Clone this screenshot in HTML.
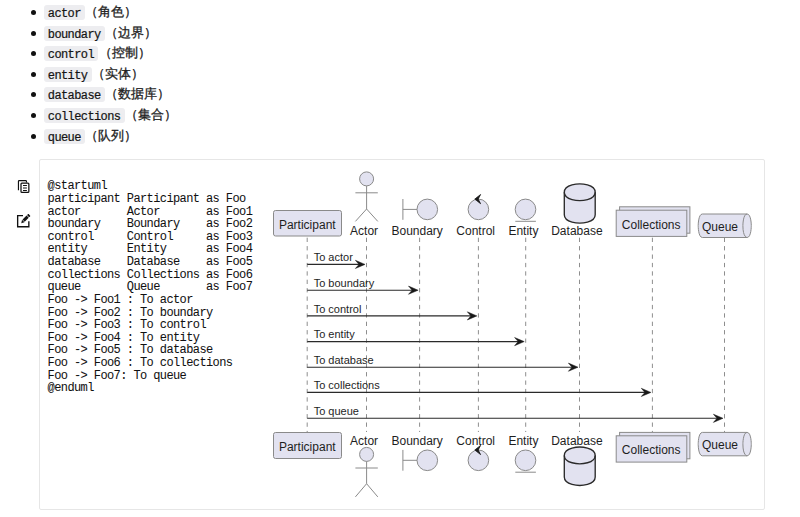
<!DOCTYPE html>
<html><head><meta charset="utf-8">
<style>
html,body{margin:0;padding:0;background:#fff;width:800px;height:517px;overflow:hidden;position:relative;font-family:"Liberation Sans",sans-serif;}
.li{position:absolute;left:0;height:14px;width:300px;white-space:nowrap;}
.dot{position:absolute;left:31.3px;top:4.5px;width:5px;height:5px;border-radius:50%;background:#111;}
.code{position:absolute;left:44.4px;top:-0.5px;height:15.2px;background:#ededf0;border-radius:3px;font-family:"Liberation Mono",monospace;font-size:12px;letter-spacing:-0.6px;line-height:18.6px;color:#151515;-webkit-text-stroke:0.22px #151515;padding:0 4.3px 0 3.4px;}
.zh{position:absolute;top:-1.4px;font-size:13px;line-height:15px;color:#1e1e1e;-webkit-text-stroke:0.3px #1e1e1e;}
.box{position:absolute;left:39px;top:159px;width:724px;height:349px;border:1px solid #e6e6e6;border-radius:2px;}
pre{position:absolute;left:47.6px;top:180.3px;margin:0;font-family:"Liberation Mono",monospace;font-size:12px;letter-spacing:-0.6px;line-height:12.63px;color:#111;-webkit-text-stroke:0.05px #111;}
svg{position:absolute;left:0;top:0;}
</style></head><body>
<div class="li" style="top:5.40px"><i class="dot"></i><span class="code">actor</span><span class="zh" style="left:85.3px">（角色）</span></div>
<div class="li" style="top:26.00px"><i class="dot"></i><span class="code">boundary</span><span class="zh" style="left:105.1px">（边界）</span></div>
<div class="li" style="top:46.60px"><i class="dot"></i><span class="code">control</span><span class="zh" style="left:98.5px">（控制）</span></div>
<div class="li" style="top:67.20px"><i class="dot"></i><span class="code">entity</span><span class="zh" style="left:91.9px">（实体）</span></div>
<div class="li" style="top:87.80px"><i class="dot"></i><span class="code">database</span><span class="zh" style="left:105.1px">（数据库）</span></div>
<div class="li" style="top:108.40px"><i class="dot"></i><span class="code">collections</span><span class="zh" style="left:124.9px">（集合）</span></div>
<div class="li" style="top:129.00px"><i class="dot"></i><span class="code">queue</span><span class="zh" style="left:85.3px">（队列）</span></div>

<div class="box"></div>
<pre>@startuml
participant Participant as Foo
actor       Actor       as Foo1
boundary    Boundary    as Foo2
control     Control     as Foo3
entity      Entity      as Foo4
database    Database    as Foo5
collections Collections as Foo6
queue       Queue       as Foo7
Foo -> Foo1 : To actor
Foo -> Foo2 : To boundary
Foo -> Foo3 : To control
Foo -> Foo4 : To entity
Foo -> Foo5 : To database
Foo -> Foo6 : To collections
Foo -> Foo7: To queue
@enduml</pre>

<svg width="800" height="517" viewBox="0 0 800 517">
<!-- copy icon -->
<path d="M18.45,190.3 V181.3 Q18.45,180.55 19.2,180.55 H25.7 Q26.45,180.55 26.45,181.3 V182.6" fill="none" stroke="#111" stroke-width="1.15"/>
<rect x="21" y="183" width="7.85" height="9.35" rx="0.9" fill="#fff" stroke="#111" stroke-width="1.25"/>
<path d="M23,185.5H26.9M23,188H26.9M23,190.5H26.9" stroke="#111" stroke-width="1.05"/>
<!-- edit icon -->
<path d="M23,215.6 H17.65 V226.75 H28.85 V221.3" fill="none" stroke="#111" stroke-width="1.35"/>
<g transform="translate(21.5,222.8) rotate(-45)" fill="#111">
<polygon points="-0.4,0.1 2.5,-1.75 2.5,1.75"/>
<rect x="3.0" y="-1.5" width="5.7" height="3"/>
<rect x="9.4" y="-1.5" width="1.8" height="3" rx="0.4"/>
</g>
<!--DIAGRAM-->
<g font-family="Liberation Sans, sans-serif">
<line x1="307.2" y1="237.7" x2="307.2" y2="432" stroke="#888" stroke-width="0.95" stroke-dasharray="4.3,4.1"/>
<line x1="366.5" y1="237.7" x2="366.5" y2="432" stroke="#888" stroke-width="0.95" stroke-dasharray="4.3,4.1"/>
<line x1="419.6" y1="237.7" x2="419.6" y2="432" stroke="#888" stroke-width="0.95" stroke-dasharray="4.3,4.1"/>
<line x1="478.4" y1="237.7" x2="478.4" y2="432" stroke="#888" stroke-width="0.95" stroke-dasharray="4.3,4.1"/>
<line x1="525.7" y1="237.7" x2="525.7" y2="432" stroke="#888" stroke-width="0.95" stroke-dasharray="4.3,4.1"/>
<line x1="579.5" y1="237.7" x2="579.5" y2="432" stroke="#888" stroke-width="0.95" stroke-dasharray="4.3,4.1"/>
<line x1="652.4" y1="237.7" x2="652.4" y2="432" stroke="#888" stroke-width="0.95" stroke-dasharray="4.3,4.1"/>
<line x1="724.5" y1="237.7" x2="724.5" y2="432" stroke="#888" stroke-width="0.95" stroke-dasharray="4.3,4.1"/>
<rect x="273.5" y="210.5" width="68" height="25.5" rx="2" fill="#E2E2F0" stroke="#8a8a8a" stroke-width="1.0"/>
<text x="307.3" y="228.8" font-size="12" text-anchor="middle" fill="#1e1e1e">Participant</text>
<circle cx="366.6" cy="178.9" r="7" fill="#E2E2F0" stroke="#8a8a8a" stroke-width="1.0"/>
<path d="M366.6,185.9V209M355.40000000000003,192.8H377.8M366.6,209L355.40000000000003,221.4M366.6,209L377.8,221.4" fill="none" stroke="#8a8a8a" stroke-width="1.0"/>
<text x="364.1" y="235.2" font-size="12" text-anchor="middle" fill="#1e1e1e">Actor</text>
<path d="M402.9,199.0V219.8M402.9,209.4H417.1" fill="none" stroke="#8a8a8a" stroke-width="1.0"/>
<circle cx="427.3" cy="209.4" r="10.3" fill="#E2E2F0" stroke="#8a8a8a" stroke-width="1.0"/>
<text x="417.2" y="235.4" font-size="12" text-anchor="middle" fill="#1e1e1e">Boundary</text>
<circle cx="478.4" cy="209.4" r="10.3" fill="#E2E2F0" stroke="#8a8a8a" stroke-width="1.0"/>
<polygon points="474.8,199.1 480.6,194.5 478.2,199.1 480.6,203.7" fill="#181818" stroke="#181818" stroke-width="0.8" stroke-linejoin="round"/>
<text x="475.7" y="235.4" font-size="12" text-anchor="middle" fill="#1e1e1e">Control</text>
<circle cx="525.5" cy="209.4" r="10.3" fill="#E2E2F0" stroke="#8a8a8a" stroke-width="1.0"/>
<line x1="515.3" y1="221.3" x2="535.9" y2="221.3" stroke="#8a8a8a" stroke-width="1.0"/>
<text x="523.4" y="235.4" font-size="12" text-anchor="middle" fill="#1e1e1e">Entity</text>
<path d="M564.3,192.20000000000002 C564.3,183.8 579.75,183.8 579.75,183.8 C579.75,183.8 595.2,183.8 595.2,192.20000000000002 L595.2,214.7 C595.2,223.1 579.75,223.1 579.75,223.1 C579.75,223.1 564.3,223.1 564.3,214.7 Z" fill="#E2E2F0" stroke="#2a2a2a" stroke-width="1.35"/>
<path d="M564.3,192.20000000000002 C564.3,200.60000000000002 579.75,200.60000000000002 579.75,200.60000000000002 C579.75,200.60000000000002 595.2,200.60000000000002 595.2,192.20000000000002" fill="none" stroke="#2a2a2a" stroke-width="1.35"/>
<text x="576.9" y="235.3" font-size="12" text-anchor="middle" fill="#1e1e1e">Database</text>
<rect x="619.6" y="206.8" width="70.3" height="26.399999999999977" fill="#E2E2F0" stroke="#8a8a8a" stroke-width="1.0"/>
<rect x="616.2" y="210.2" width="70.6" height="26.200000000000017" fill="#E2E2F0" stroke="#8a8a8a" stroke-width="1.0"/>
<text x="651.2" y="228.5" font-size="12" text-anchor="middle" fill="#1e1e1e">Collections</text>
<path d="M702.4000000000001,214 L747.0999999999999,214 C751.3,214 751.3,225.75 751.3,225.75 C751.3,225.75 751.3,237.5 747.0999999999999,237.5 L702.4000000000001,237.5 C698.2,237.5 698.2,225.75 698.2,225.75 C698.2,225.75 698.2,214 702.4000000000001,214 Z" fill="#E2E2F0" stroke="#8a8a8a" stroke-width="1.0"/>
<path d="M747.0999999999999,214 C742.9,214 742.9,225.75 742.9,225.75 C742.9,237.5 747.0999999999999,237.5 747.0999999999999,237.5" fill="none" stroke="#8a8a8a" stroke-width="1.0"/>
<text x="720" y="230.5" font-size="12" text-anchor="middle" fill="#1e1e1e">Queue</text>
<rect x="273.5" y="432.5" width="68" height="26.0" rx="2" fill="#E2E2F0" stroke="#8a8a8a" stroke-width="1.0"/>
<text x="307.3" y="450.6" font-size="12" text-anchor="middle" fill="#1e1e1e">Participant</text>
<circle cx="366.6" cy="454.4" r="7" fill="#E2E2F0" stroke="#8a8a8a" stroke-width="1.0"/>
<path d="M366.6,461.4V483.7M355.40000000000003,468H377.8M366.6,483.7L355.40000000000003,496.9M366.6,483.7L377.8,496.9" fill="none" stroke="#8a8a8a" stroke-width="1.0"/>
<text x="364.1" y="444.8" font-size="12" text-anchor="middle" fill="#1e1e1e">Actor</text>
<path d="M402.9,449.90000000000003V470.7M402.9,460.3H417.1" fill="none" stroke="#8a8a8a" stroke-width="1.0"/>
<circle cx="427.3" cy="460.3" r="10.3" fill="#E2E2F0" stroke="#8a8a8a" stroke-width="1.0"/>
<text x="417.2" y="445.1" font-size="12" text-anchor="middle" fill="#1e1e1e">Boundary</text>
<circle cx="478.4" cy="460.3" r="10.3" fill="#E2E2F0" stroke="#8a8a8a" stroke-width="1.0"/>
<polygon points="474.8,450.0 480.6,445.4 478.2,450.0 480.6,454.6" fill="#181818" stroke="#181818" stroke-width="0.8" stroke-linejoin="round"/>
<text x="475.7" y="445.1" font-size="12" text-anchor="middle" fill="#1e1e1e">Control</text>
<circle cx="525.5" cy="460.3" r="10.3" fill="#E2E2F0" stroke="#8a8a8a" stroke-width="1.0"/>
<line x1="515.3" y1="472.2" x2="535.9" y2="472.2" stroke="#8a8a8a" stroke-width="1.0"/>
<text x="523.4" y="445.1" font-size="12" text-anchor="middle" fill="#1e1e1e">Entity</text>
<path d="M564.3,455.4 C564.3,447 579.75,447 579.75,447 C579.75,447 595.2,447 595.2,455.4 L595.2,477.1 C595.2,485.5 579.75,485.5 579.75,485.5 C579.75,485.5 564.3,485.5 564.3,477.1 Z" fill="#E2E2F0" stroke="#2a2a2a" stroke-width="1.35"/>
<path d="M564.3,455.4 C564.3,463.8 579.75,463.8 579.75,463.8 C579.75,463.8 595.2,463.8 595.2,455.4" fill="none" stroke="#2a2a2a" stroke-width="1.35"/>
<text x="576.9" y="445.2" font-size="12" text-anchor="middle" fill="#1e1e1e">Database</text>
<rect x="619.6" y="432.4" width="70.3" height="26.400000000000034" fill="#E2E2F0" stroke="#8a8a8a" stroke-width="1.0"/>
<rect x="616.2" y="435.8" width="70.6" height="26.30000000000001" fill="#E2E2F0" stroke="#8a8a8a" stroke-width="1.0"/>
<text x="651.2" y="454" font-size="12" text-anchor="middle" fill="#1e1e1e">Collections</text>
<path d="M702.4000000000001,432.4 L747.0999999999999,432.4 C751.3,432.4 751.3,444.1 751.3,444.1 C751.3,444.1 751.3,455.8 747.0999999999999,455.8 L702.4000000000001,455.8 C698.2,455.8 698.2,444.1 698.2,444.1 C698.2,444.1 698.2,432.4 702.4000000000001,432.4 Z" fill="#E2E2F0" stroke="#8a8a8a" stroke-width="1.0"/>
<path d="M747.0999999999999,432.4 C742.9,432.4 742.9,444.1 742.9,444.1 C742.9,455.8 747.0999999999999,455.8 747.0999999999999,455.8" fill="none" stroke="#8a8a8a" stroke-width="1.0"/>
<text x="720" y="449.2" font-size="12" text-anchor="middle" fill="#1e1e1e">Queue</text>
<line x1="307.2" y1="264.4" x2="362.0" y2="264.4" stroke="#2a2a2a" stroke-width="1.1"/>
<polygon points="355.4,260.29999999999995 365.0,264.4 355.4,268.5 359.0,264.4" fill="#181818" stroke="#181818" stroke-width="0.5"/>
<text x="313.7" y="261.0" font-size="11" text-anchor="start" fill="#1e1e1e">To actor</text>
<line x1="307.2" y1="290.2" x2="415.1" y2="290.2" stroke="#2a2a2a" stroke-width="1.1"/>
<polygon points="408.5,286.09999999999997 418.1,290.2 408.5,294.3 412.1,290.2" fill="#181818" stroke="#181818" stroke-width="0.5"/>
<text x="313.7" y="286.8" font-size="11" text-anchor="start" fill="#1e1e1e">To boundary</text>
<line x1="307.2" y1="315.9" x2="473.9" y2="315.9" stroke="#2a2a2a" stroke-width="1.1"/>
<polygon points="467.29999999999995,311.79999999999995 476.9,315.9 467.29999999999995,320.0 470.9,315.9" fill="#181818" stroke="#181818" stroke-width="0.5"/>
<text x="313.7" y="312.5" font-size="11" text-anchor="start" fill="#1e1e1e">To control</text>
<line x1="307.2" y1="341.6" x2="521.2" y2="341.6" stroke="#2a2a2a" stroke-width="1.1"/>
<polygon points="514.6,337.5 524.2,341.6 514.6,345.70000000000005 518.2,341.6" fill="#181818" stroke="#181818" stroke-width="0.5"/>
<text x="313.7" y="338.20000000000005" font-size="11" text-anchor="start" fill="#1e1e1e">To entity</text>
<line x1="307.2" y1="367.2" x2="575.0" y2="367.2" stroke="#2a2a2a" stroke-width="1.1"/>
<polygon points="568.4,363.09999999999997 578.0,367.2 568.4,371.3 572.0,367.2" fill="#181818" stroke="#181818" stroke-width="0.5"/>
<text x="313.7" y="363.8" font-size="11" text-anchor="start" fill="#1e1e1e">To database</text>
<line x1="307.2" y1="392.4" x2="647.9" y2="392.4" stroke="#2a2a2a" stroke-width="1.1"/>
<polygon points="641.3,388.29999999999995 650.9,392.4 641.3,396.5 644.9,392.4" fill="#181818" stroke="#181818" stroke-width="0.5"/>
<text x="313.7" y="389.0" font-size="11" text-anchor="start" fill="#1e1e1e">To collections</text>
<line x1="307.2" y1="418.3" x2="720.0" y2="418.3" stroke="#2a2a2a" stroke-width="1.1"/>
<polygon points="713.4,414.2 723.0,418.3 713.4,422.40000000000003 717.0,418.3" fill="#181818" stroke="#181818" stroke-width="0.5"/>
<text x="313.7" y="414.90000000000003" font-size="11" text-anchor="start" fill="#1e1e1e">To queue</text>
</g>
<!--/DIAGRAM-->
</svg>
</body></html>
